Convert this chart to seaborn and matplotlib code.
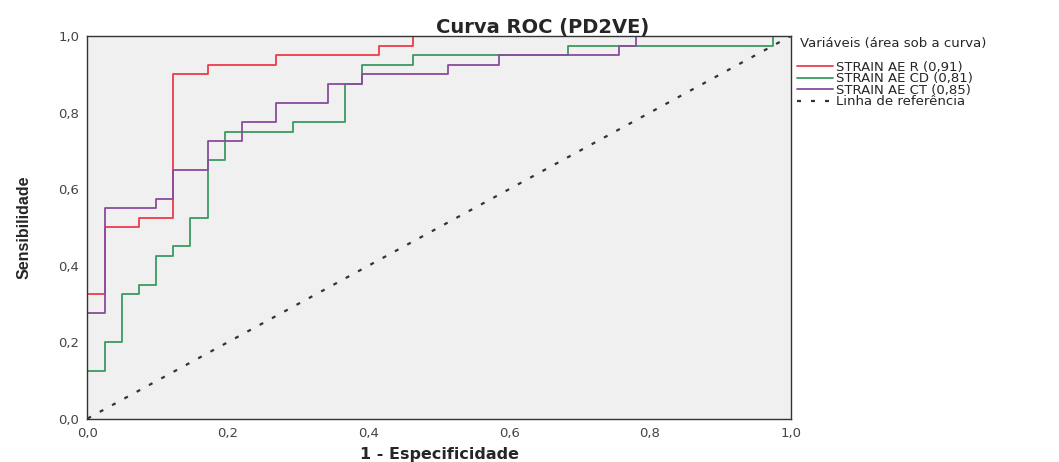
import numpy as np
import pandas as pd
import seaborn as sns
import matplotlib
matplotlib.use("Agg")
import matplotlib.pyplot as plt

# ROC step points (1 - especificidade, sensibilidade)
fpr_r = [0, 0, 0.0244, 0.0732, 0.122, 0.1707, 0.2683, 0.4146, 0.4634, 1.0]
tpr_r = [0, 0.325, 0.5, 0.525, 0.9, 0.925, 0.95, 0.975, 1.0, 1.0]

fpr_cd = [0, 0, 0.0244, 0.0488, 0.0732, 0.0976, 0.122, 0.1463, 0.1707, 0.1951,
          0.2927, 0.3659, 0.3902, 0.4634, 0.6829, 0.9756, 1.0]
tpr_cd = [0, 0.125, 0.2, 0.325, 0.35, 0.425, 0.45, 0.525, 0.675, 0.75,
          0.775, 0.875, 0.925, 0.95, 0.975, 1.0, 1.0]

fpr_ct = [0, 0, 0.0244, 0.0976, 0.122, 0.1707, 0.2195, 0.2683, 0.3415, 0.3902,
          0.5122, 0.5854, 0.7561, 0.7805, 1.0]
tpr_ct = [0, 0.275, 0.55, 0.575, 0.65, 0.725, 0.775, 0.825, 0.875, 0.9,
          0.925, 0.95, 0.975, 1.0, 1.0]

series_names = ["STRAIN AE R (0,91)", "STRAIN AE CD (0,81)", "STRAIN AE CT (0,85)"]
series_colors = ["#ee3b4a", "#3a9a62", "#8a4c9c"]
ref_x = [0, 1]
ref_y = [0, 1]
ticks = [0, 0.2, 0.4, 0.6, 0.8, 1.0]
tick_labels = ["0,0", "0,2", "0,4", "0,6", "0,8", "1,0"]

sns.set_style("white")
plt.rcParams["font.family"] = ["DejaVu Sans"]

fig = plt.figure(figsize=(10.59, 4.62), dpi=100)
ax = fig.add_axes([0.0826, 0.094, 0.664, 0.828])
ax.set_facecolor("#f0f0f0")

# Build long table for seaborn
frames = []
for name, fx, ty in zip(series_names, [fpr_r, fpr_cd, fpr_ct], [tpr_r, tpr_cd, tpr_ct]):
    frames.append(pd.DataFrame({"fpr": fx, "tpr": ty, "var": name}))
df = pd.concat(frames, ignore_index=True)

for name, color in zip(series_names, series_colors):
    sub = df[df["var"] == name]
    sns.lineplot(data=sub, x="fpr", y="tpr", ax=ax, sort=False, estimator=None,
                 color=color, linewidth=1.3, drawstyle="steps-post", label=name)

# Reference diagonal
sns.lineplot(x=ref_x, y=ref_y, ax=ax, color="#333333", linewidth=1.6,
             dashes=False, label="Linha de referência")
ax.lines[-1].set_linestyle((0, (1.8, 4.5)))

ax.set_xlim(0, 1)
ax.set_ylim(0, 1)
ax.set_xticks(ticks)
ax.set_xticklabels(tick_labels)
ax.set_yticks(ticks)
ax.set_yticklabels(tick_labels)
ax.tick_params(axis="both", direction="out", length=5, width=1, color="#333333",
               labelsize=9.5, labelcolor="#444444", pad=1)
for s in ax.spines.values():
    s.set_color("#333333")
    s.set_linewidth(1)

ax.set_xlabel("1 - Especificidade", fontsize=11.5, fontweight="bold", labelpad=5)
ax.set_ylabel("Sensibilidade", fontsize=11.5, fontweight="bold", labelpad=19,
              family=["Liberation Sans", "DejaVu Sans"])
fig.text(0.512, 0.928, "Curva ROC (PD2VE)", ha="center", va="baseline",
         fontsize=14, fontweight="bold")

fig.text(0.755, 0.906, "Variáveis (área sob a curva)", ha="left", va="center",
         fontsize=9.5)
leg = ax.legend(loc="upper left", bbox_to_anchor=(1.0, 0.952), frameon=False,
                fontsize=9.5, handlelength=2.7, handletextpad=0.2,
                labelspacing=-0.12, borderaxespad=0.3, borderpad=0.2)

fig.savefig("out.png", dpi=100)
